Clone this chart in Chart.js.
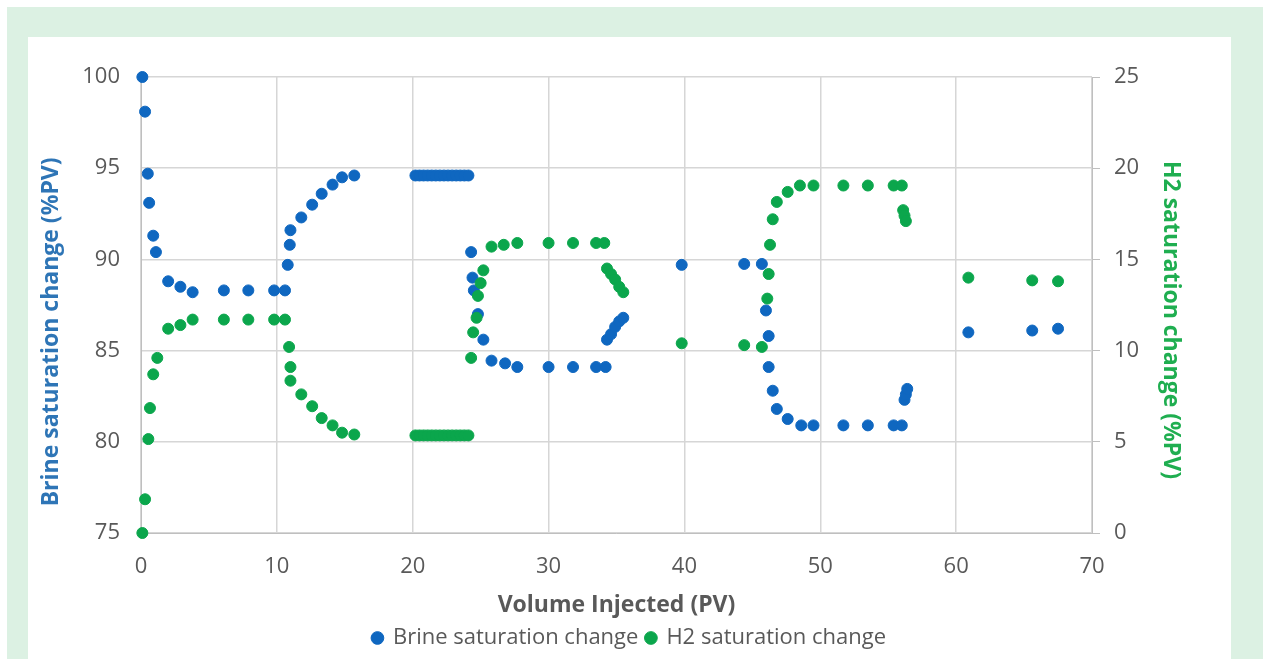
<!DOCTYPE html>
<html>
<head>
<meta charset="utf-8">
<script src="https://cdn.jsdelivr.net/npm/chart.js@4.4.1/dist/chart.umd.min.js"></script>
<style>
  body { margin: 0; background: #ffffff; }
  #frame { position: absolute; left: 7px; top: 7px; width: 1256px; height: 652px; background: #dcf1e3; }
  #card { position: absolute; left: 28px; top: 37px; width: 1203px; height: 622px; background: #ffffff; }
</style>
</head>
<body>
<div id="frame"></div>
<div id="card"><canvas id="chartSat" width="1203" height="622"></canvas></div>
<script>
// Brine saturation change (%PV), left axis
const brineX = [0.1, 0.3, 0.5, 0.6, 0.9, 1.1, 2.0, 2.9, 3.8, 6.1, 7.9, 9.8, 10.6, 10.8, 10.95, 11.0, 11.8, 12.6, 13.3, 14.1, 14.8, 15.7,
    20.2, 20.5, 20.8, 21.1, 21.4, 21.7, 22.0, 22.3, 22.6, 22.9, 23.2, 23.5, 23.8, 24.1,
    24.3, 24.4, 24.5, 24.8, 25.2, 25.8, 26.8, 27.7, 30.0, 31.8, 33.5, 34.2, 34.3, 34.6, 34.9, 35.2, 35.5,
    39.8, 44.4, 45.7, 46.0, 46.2, 46.2, 46.5, 46.8, 47.6, 48.6, 49.5, 51.7, 53.5, 55.4, 56.0, 56.2, 56.3, 56.4,
    60.9, 65.6, 67.5];
const brineY = [100, 98.1, 94.7, 93.1, 91.3, 90.4, 88.8, 88.5, 88.2, 88.3, 88.3, 88.3, 88.3, 89.7, 90.8, 91.6, 92.3, 93.0, 93.6, 94.1, 94.5, 94.6,
    94.6, 94.6, 94.6, 94.6, 94.6, 94.6, 94.6, 94.6, 94.6, 94.6, 94.6, 94.6, 94.6, 94.6,
    90.4, 89.0, 88.3, 87.0, 85.6, 84.45, 84.3, 84.1, 84.1, 84.1, 84.1, 84.1, 85.6, 85.9, 86.3, 86.6, 86.8,
    89.7, 89.75, 89.75, 87.2, 85.8, 84.1, 82.8, 81.8, 81.25, 80.9, 80.9, 80.9, 80.9, 80.9, 80.9, 82.3, 82.6, 82.9,
    86.0, 86.1, 86.2];

// H2 saturation change (%PV), right axis
const h2X = [0.1, 0.3, 0.54, 0.66, 0.9, 1.2, 2.0, 2.9, 3.8, 6.1, 7.9, 9.8, 10.6, 10.9, 11.0, 11.0, 11.8, 12.6, 13.3, 14.1, 14.8, 15.7,
    20.2, 20.5, 20.8, 21.1, 21.4, 21.7, 22.0, 22.3, 22.6, 22.9, 23.2, 23.5, 23.8, 24.1,
    24.3, 24.45, 24.7, 24.8, 25.0, 25.2, 25.8, 26.7, 27.7, 30.0, 31.8, 33.5, 34.1, 34.3, 34.6, 34.9, 35.2, 35.5,
    39.8, 44.4, 45.7, 46.1, 46.2, 46.3, 46.5, 46.8, 47.6, 48.5, 49.5, 51.7, 53.5, 55.4, 56.0, 56.1, 56.2, 56.3,
    60.9, 65.6, 67.5];
const h2Y = [0, 1.85, 5.15, 6.85, 8.7, 9.6, 11.2, 11.4, 11.7, 11.7, 11.7, 11.7, 11.7, 10.2, 9.1, 8.35, 7.6, 6.95, 6.3, 5.9, 5.5, 5.4,
    5.35, 5.35, 5.35, 5.35, 5.35, 5.35, 5.35, 5.35, 5.35, 5.35, 5.35, 5.35, 5.35, 5.35,
    9.6, 11.0, 11.8, 13.0, 13.7, 14.4, 15.7, 15.8, 15.9, 15.9, 15.9, 15.9, 15.9, 14.5, 14.2, 13.9, 13.5, 13.2,
    10.4, 10.3, 10.2, 12.85, 14.2, 15.8, 17.2, 18.15, 18.7, 19.05, 19.05, 19.05, 19.05, 19.05, 19.05, 17.7, 17.4, 17.1,
    14.0, 13.85, 13.8];

const xTicks = [0, 10, 20, 30, 40, 50, 60, 70];

function toPoints(xs, ys) {
    return xs.map(function (x, i) { return { x: x, y: ys[i] }; });
}

const tickFont = { family: 'Open Sans', size: 22 };
const titleFont = { family: 'Open Sans', size: 23, weight: 'bold' };
const gridColor = '#d6d6d6';

new Chart(document.getElementById('chartSat'), {
    type: 'scatter',
    data: {
        datasets: [{
            label: 'Brine saturation change',
            data: toPoints(brineX, brineY),
            yAxisID: 'y',
            backgroundColor: '#0f67c0',
            borderColor: '#0f67c0',
            pointRadius: 5.5,
            clip: false,
            order: 2
        }, {
            label: 'H2 saturation change',
            data: toPoints(h2X, h2Y),
            yAxisID: 'y2',
            backgroundColor: '#0ba64c',
            borderColor: '#0ba64c',
            pointRadius: 5.5,
            clip: false,
            order: 1
        }]
    },
    options: {
        responsive: false,
        animation: false,
        layout: { padding: { top: 40, left: 0, right: 0, bottom: 0 } },
        plugins: {
            tooltip: { enabled: false },
            legend: {
                position: 'bottom',
                labels: {
                    usePointStyle: true,
                    pointStyle: 'circle',
                    boxWidth: 9,
                    boxHeight: 9,
                    padding: 8,
                    color: '#595959',
                    font: { family: 'Open Sans', size: 22 },
                    sort: function (a, b) { return a.datasetIndex - b.datasetIndex; }
                }
            }
        },
        scales: {
            x: {
                type: 'linear',
                min: 0, max: 70,
                afterBuildTicks: function (s) { s.ticks = xTicks.map(function (v) { return { value: v }; }); },
                afterFit: function (s) { s.height = 86; },
                grid: { color: gridColor, lineWidth: 1.5, drawTicks: false },
                border: { color: '#bfbfbf' },
                ticks: { color: '#595959', font: tickFont, padding: 21 },
                title: { display: true, text: 'Volume Injected (PV)', color: '#595959', font: titleFont, padding: { top: 0, bottom: 0 } }
            },
            y: {
                position: 'left',
                min: 75, max: 100,
                afterFit: function (s) { s.width = 113; },
                grid: { color: gridColor, lineWidth: 1.5, drawTicks: false },
                border: { color: '#bfbfbf' },
                ticks: { stepSize: 5, color: '#595959', font: tickFont, padding: 21 },
                // trailing spaces nudge the title down, as in the original
                title: { display: true, text: 'Brine saturation change (%PV)         ', color: '#2e75b6', font: titleFont, padding: { top: 10, bottom: 0 } }
            },
            y2: {
                position: 'right',
                min: 0, max: 25,
                afterFit: function (s) { s.width = 139; },
                grid: { drawOnChartArea: false, drawTicks: true, tickLength: 8, color: '#bfbfbf' },
                border: { color: '#bfbfbf' },
                ticks: { stepSize: 5, color: '#595959', font: tickFont, padding: 14 },
                // this title reads top-down, so leading spaces push it down
                title: { display: true, text: '     H2 saturation change (%PV)', color: '#1fae50', font: titleFont, padding: { top: 47, bottom: 0 } }
            }
        }
    }
});
</script>
</body>
</html>
